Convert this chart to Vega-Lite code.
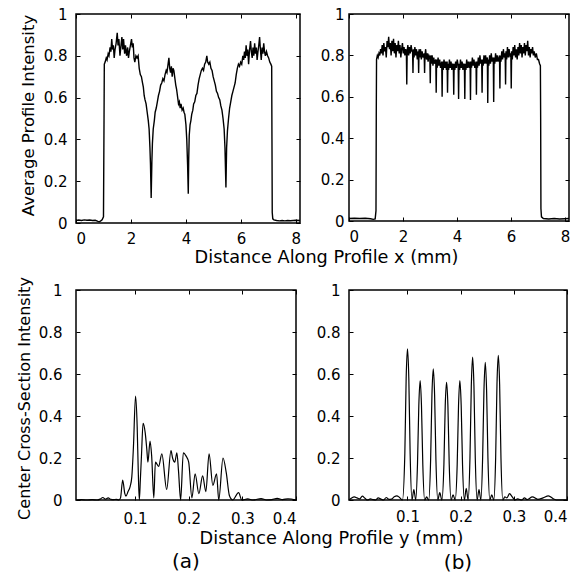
{
  "$schema": "https://vega.github.io/schema/vega-lite/v6.json",
  "padding": {"left": 15, "top": 6, "right": 5, "bottom": 5},
  "background": "white",
  "config": {
    "font": "DejaVu Sans",
    "view": {"stroke": "black", "strokeWidth": 1.5},
    "axis": {
      "domain": false, "grid": false, "tickColor": "black", "tickSize": -4, "tickWidth": 1,
      "labelColor": "black", "labelFontSize": 15, "labelFont": "DejaVu Sans",
      "titleFontSize": 16, "titleFontWeight": "normal", "titleColor": "black", "titleFont": "DejaVu Sans",
      "format": "~g"
    },
    "title": {"font": "DejaVu Sans", "fontSize": 20, "fontWeight": "normal", "color": "black"}
  },
  "datasets": {
    "tl": [
      {"x":0,"y":0.012},{"x":0.1,"y":0.014},{"x":0.2,"y":0.012},{"x":0.3,"y":0.015},{"x":0.4,"y":0.013},{"x":0.5,"y":0.014},{"x":0.6,"y":0.012},{"x":0.7,"y":0.013},{"x":0.8,"y":0.008},{"x":0.85,"y":0.006},{"x":0.9,"y":0.01},{"x":0.95,"y":0.015},{"x":1.0,"y":0.03},{"x":1.02,"y":0.5},{"x":1.03,"y":0.76},
      {"x":1.06,"y":0.77},{"x":1.1,"y":0.79},{"x":1.13,"y":0.78},{"x":1.17,"y":0.81},{"x":1.2,"y":0.8},{"x":1.24,"y":0.84},{"x":1.27,"y":0.82},{"x":1.3,"y":0.88},{"x":1.33,"y":0.83},{"x":1.36,"y":0.85},{"x":1.39,"y":0.79},{"x":1.42,"y":0.83},{"x":1.46,"y":0.86},{"x":1.5,"y":0.91},{"x":1.53,"y":0.85},{"x":1.56,"y":0.88},{"x":1.6,"y":0.8},{"x":1.63,"y":0.84},{"x":1.67,"y":0.89},{"x":1.7,"y":0.83},{"x":1.73,"y":0.88},{"x":1.77,"y":0.81},{"x":1.8,"y":0.85},{"x":1.84,"y":0.8},{"x":1.88,"y":0.84},{"x":1.91,"y":0.79},{"x":1.94,"y":0.82},{"x":1.98,"y":0.85},{"x":2.02,"y":0.88},{"x":2.05,"y":0.84},{"x":2.08,"y":0.86},{"x":2.11,"y":0.79},{"x":2.14,"y":0.77},{"x":2.18,"y":0.8},{"x":2.22,"y":0.79},{"x":2.26,"y":0.8},
      {"x":2.3,"y":0.74},{"x":2.34,"y":0.71},{"x":2.38,"y":0.7},{"x":2.42,"y":0.67},{"x":2.45,"y":0.65},{"x":2.48,"y":0.61},{"x":2.51,"y":0.59},{"x":2.55,"y":0.57},{"x":2.59,"y":0.53},{"x":2.63,"y":0.49},{"x":2.66,"y":0.45},{"x":2.69,"y":0.36},{"x":2.71,"y":0.28},{"x":2.735,"y":0.12},{"x":2.76,"y":0.29},{"x":2.78,"y":0.38},{"x":2.81,"y":0.45},{"x":2.85,"y":0.49},{"x":2.88,"y":0.53},{"x":2.92,"y":0.55},{"x":2.96,"y":0.58},{"x":3.0,"y":0.61},{"x":3.04,"y":0.63},{"x":3.08,"y":0.66},{"x":3.12,"y":0.67},{"x":3.16,"y":0.69},{"x":3.2,"y":0.68},{"x":3.24,"y":0.71},{"x":3.28,"y":0.73},{"x":3.31,"y":0.72},{"x":3.35,"y":0.76},{"x":3.38,"y":0.79},{"x":3.41,"y":0.74},{"x":3.44,"y":0.72},{"x":3.47,"y":0.75},{"x":3.5,"y":0.7},{"x":3.53,"y":0.74},{"x":3.56,"y":0.73},{"x":3.6,"y":0.69},{"x":3.63,"y":0.66},{"x":3.66,"y":0.64},{"x":3.7,"y":0.6},{"x":3.73,"y":0.57},{"x":3.76,"y":0.58},{"x":3.79,"y":0.55},{"x":3.82,"y":0.57},{"x":3.86,"y":0.54},{"x":3.9,"y":0.55},{"x":3.93,"y":0.53},{"x":3.96,"y":0.52},{"x":4.0,"y":0.47},{"x":4.03,"y":0.4},{"x":4.06,"y":0.28},{"x":4.085,"y":0.14},{"x":4.1,"y":0.3},{"x":4.12,"y":0.42},{"x":4.15,"y":0.47},{"x":4.18,"y":0.49},{"x":4.21,"y":0.52},{"x":4.25,"y":0.54},{"x":4.28,"y":0.57},{"x":4.32,"y":0.58},{"x":4.36,"y":0.61},{"x":4.4,"y":0.62},{"x":4.44,"y":0.66},{"x":4.48,"y":0.69},{"x":4.52,"y":0.71},{"x":4.56,"y":0.73},{"x":4.6,"y":0.74},{"x":4.64,"y":0.73},{"x":4.68,"y":0.76},{"x":4.72,"y":0.77},{"x":4.76,"y":0.8},{"x":4.79,"y":0.77},{"x":4.83,"y":0.76},{"x":4.87,"y":0.77},{"x":4.91,"y":0.74},{"x":4.95,"y":0.73},{"x":4.99,"y":0.7},{"x":5.03,"y":0.68},{"x":5.07,"y":0.66},{"x":5.11,"y":0.63},{"x":5.15,"y":0.62},{"x":5.19,"y":0.6},{"x":5.23,"y":0.59},{"x":5.27,"y":0.56},{"x":5.31,"y":0.54},{"x":5.35,"y":0.5},{"x":5.39,"y":0.45},{"x":5.42,"y":0.36},{"x":5.455,"y":0.17},{"x":5.48,"y":0.36},{"x":5.51,"y":0.44},{"x":5.55,"y":0.5},{"x":5.59,"y":0.55},{"x":5.63,"y":0.58},{"x":5.67,"y":0.61},{"x":5.71,"y":0.63},{"x":5.75,"y":0.65},{"x":5.79,"y":0.67},{"x":5.83,"y":0.71},{"x":5.87,"y":0.74},{"x":5.91,"y":0.76},{"x":5.95,"y":0.75},{"x":5.99,"y":0.77},{"x":6.03,"y":0.76},{"x":6.07,"y":0.8},{"x":6.1,"y":0.78},{"x":6.13,"y":0.82},{"x":6.16,"y":0.79},{"x":6.19,"y":0.85},{"x":6.22,"y":0.8},{"x":6.25,"y":0.83},{"x":6.28,"y":0.76},{"x":6.31,"y":0.82},{"x":6.35,"y":0.87},{"x":6.38,"y":0.82},{"x":6.41,"y":0.79},{"x":6.44,"y":0.84},{"x":6.47,"y":0.8},{"x":6.5,"y":0.86},{"x":6.53,"y":0.81},{"x":6.56,"y":0.84},{"x":6.59,"y":0.78},{"x":6.62,"y":0.82},{"x":6.65,"y":0.85},{"x":6.68,"y":0.89},{"x":6.71,"y":0.83},{"x":6.74,"y":0.78},{"x":6.77,"y":0.84},{"x":6.8,"y":0.81},{"x":6.83,"y":0.86},{"x":6.86,"y":0.82},{"x":6.89,"y":0.8},{"x":6.93,"y":0.82},{"x":6.97,"y":0.8},{"x":7.01,"y":0.79},{"x":7.05,"y":0.77},{"x":7.09,"y":0.76},{"x":7.12,"y":0.75},{"x":7.13,"y":0.4},{"x":7.14,"y":0.05},{"x":7.16,"y":0.02},{"x":7.2,"y":0.015},{"x":7.3,"y":0.012},{"x":7.4,"y":0.01},{"x":7.5,"y":0.012},{"x":7.6,"y":0.01},{"x":7.7,"y":0.012},{"x":7.8,"y":0.011},{"x":7.9,"y":0.012},{"x":8.0,"y":0.013},{"x":8.15,"y":0.012}
    ],
    "tr": [
      {"x":0,"y":0.012},{"x":0.2,"y":0.013},{"x":0.4,"y":0.012},{"x":0.6,"y":0.013},{"x":0.8,"y":0.011},{"x":0.9,"y":0.008},{"x":0.97,"y":0.01},{"x":1.0,"y":0.05},{"x":1.01,"y":0.5},{"x":1.02,"y":0.78},
      {"x":1.05,"y":0.8},{"x":1.08,"y":0.79},{"x":1.11,"y":0.81},{"x":1.14,"y":0.8},{"x":1.17,"y":0.83},{"x":1.2,"y":0.81},{"x":1.23,"y":0.85},{"x":1.26,"y":0.8},{"x":1.29,"y":0.86},{"x":1.32,"y":0.82},{"x":1.35,"y":0.84},{"x":1.38,"y":0.79},{"x":1.41,"y":0.87},{"x":1.44,"y":0.84},{"x":1.47,"y":0.89},{"x":1.5,"y":0.83},{"x":1.53,"y":0.86},{"x":1.56,"y":0.8},{"x":1.59,"y":0.87},{"x":1.62,"y":0.82},{"x":1.65,"y":0.88},{"x":1.68,"y":0.81},{"x":1.71,"y":0.86},{"x":1.74,"y":0.79},{"x":1.77,"y":0.85},{"x":1.8,"y":0.82},{"x":1.83,"y":0.87},{"x":1.86,"y":0.81},{"x":1.89,"y":0.85},{"x":1.92,"y":0.79},{"x":1.95,"y":0.83},{"x":1.98,"y":0.86},{"x":2.01,"y":0.81},{"x":2.04,"y":0.84},{"x":2.07,"y":0.8},{"x":2.1,"y":0.83},{"x":2.125,"y":0.82},{"x":2.14,"y":0.66},{"x":2.155,"y":0.82},{"x":2.18,"y":0.85},{"x":2.21,"y":0.8},{"x":2.24,"y":0.84},{"x":2.27,"y":0.81},{"x":2.3,"y":0.85},{"x":2.335,"y":0.82},{"x":2.355,"y":0.82},{"x":2.37,"y":0.715},{"x":2.385,"y":0.83},
      {"x":2.41,"y":0.79},{"x":2.44,"y":0.84},{"x":2.47,"y":0.8},{"x":2.5,"y":0.83},{"x":2.53,"y":0.78},{"x":2.565,"y":0.82},{"x":2.58,"y":0.715},{"x":2.595,"y":0.83},{"x":2.62,"y":0.79},{"x":2.65,"y":0.83},{"x":2.68,"y":0.78},{"x":2.71,"y":0.82},{"x":2.74,"y":0.79},{"x":2.785,"y":0.81},{"x":2.8,"y":0.715},{"x":2.815,"y":0.8},{"x":2.84,"y":0.83},{"x":2.87,"y":0.78},{"x":2.9,"y":0.81},{"x":2.93,"y":0.77},{"x":2.96,"y":0.8},{"x":2.995,"y":0.79},{"x":3.01,"y":0.665},{"x":3.025,"y":0.8},{"x":3.05,"y":0.76},{"x":3.08,"y":0.8},{"x":3.11,"y":0.75},{"x":3.14,"y":0.79},{"x":3.17,"y":0.76},{"x":3.215,"y":0.78},{"x":3.23,"y":0.62},{"x":3.245,"y":0.78},{"x":3.27,"y":0.74},{"x":3.3,"y":0.79},{"x":3.33,"y":0.75},{"x":3.36,"y":0.78},{"x":3.39,"y":0.74},{"x":3.435,"y":0.77},{"x":3.45,"y":0.6},{"x":3.465,"y":0.77},{"x":3.49,"y":0.73},{"x":3.52,"y":0.78},{"x":3.55,"y":0.74},{"x":3.58,"y":0.77},{"x":3.61,"y":0.73},{"x":3.635,"y":0.77},{"x":3.65,"y":0.62},{"x":3.665,"y":0.76},{"x":3.69,"y":0.73},{"x":3.72,"y":0.78},{"x":3.75,"y":0.74},{"x":3.78,"y":0.77},{"x":3.81,"y":0.73},{"x":3.84,"y":0.76},{"x":3.865,"y":0.75},{"x":3.88,"y":0.61},{"x":3.895,"y":0.76},{"x":3.92,"y":0.73},{"x":3.95,"y":0.77},{"x":3.98,"y":0.74},{"x":4.01,"y":0.78},{"x":4.045,"y":0.75},{"x":4.06,"y":0.59},{"x":4.075,"y":0.76},{"x":4.1,"y":0.73},{"x":4.13,"y":0.78},{"x":4.16,"y":0.74},{"x":4.19,"y":0.77},{"x":4.22,"y":0.73},{"x":4.25,"y":0.76},{"x":4.275,"y":0.75},{"x":4.29,"y":0.59},{"x":4.305,"y":0.76},{"x":4.33,"y":0.73},{"x":4.36,"y":0.78},{"x":4.39,"y":0.74},{"x":4.42,"y":0.77},{"x":4.455,"y":0.74},{"x":4.485,"y":0.77},{"x":4.5,"y":0.585},{"x":4.515,"y":0.77},{"x":4.54,"y":0.74},{"x":4.57,"y":0.79},{"x":4.6,"y":0.75},{"x":4.63,"y":0.78},{"x":4.66,"y":0.74},{"x":4.705,"y":0.77},{"x":4.72,"y":0.61},{"x":4.735,"y":0.77},{"x":4.76,"y":0.74},{"x":4.79,"y":0.79},{"x":4.82,"y":0.75},{"x":4.85,"y":0.8},{"x":4.88,"y":0.76},{"x":4.915,"y":0.78},{"x":4.93,"y":0.62},{"x":4.945,"y":0.78},{"x":4.97,"y":0.75},{"x":5.0,"y":0.8},{"x":5.03,"y":0.76},{"x":5.06,"y":0.8},{"x":5.09,"y":0.76},{"x":5.125,"y":0.79},{"x":5.14,"y":0.57},{"x":5.155,"y":0.78},{"x":5.18,"y":0.75},{"x":5.21,"y":0.8},{"x":5.24,"y":0.76},{"x":5.27,"y":0.81},{"x":5.3,"y":0.77},{"x":5.345,"y":0.79},{"x":5.36,"y":0.575},{"x":5.375,"y":0.79},{"x":5.4,"y":0.76},{"x":5.43,"y":0.81},{"x":5.46,"y":0.77},{"x":5.49,"y":0.8},{"x":5.52,"y":0.77},{"x":5.575,"y":0.8},{"x":5.59,"y":0.64},{"x":5.605,"y":0.8},{"x":5.63,"y":0.77},{"x":5.66,"y":0.82},{"x":5.69,"y":0.78},{"x":5.72,"y":0.83},{"x":5.75,"y":0.79},{"x":5.785,"y":0.81},{"x":5.8,"y":0.66},{"x":5.815,"y":0.82},{"x":5.84,"y":0.78},{"x":5.87,"y":0.84},{"x":5.9,"y":0.79},{"x":5.93,"y":0.83},{"x":5.96,"y":0.8},{"x":5.995,"y":0.81},{"x":6.01,"y":0.64},{"x":6.025,"y":0.82},{"x":6.05,"y":0.78},{"x":6.08,"y":0.84},{"x":6.11,"y":0.8},{"x":6.14,"y":0.85},{"x":6.17,"y":0.79},{"x":6.2,"y":0.83},{"x":6.23,"y":0.78},{"x":6.26,"y":0.84},{"x":6.29,"y":0.8},{"x":6.32,"y":0.86},{"x":6.35,"y":0.81},{"x":6.38,"y":0.85},{"x":6.41,"y":0.79},{"x":6.44,"y":0.84},{"x":6.47,"y":0.81},{"x":6.5,"y":0.86},{"x":6.53,"y":0.8},{"x":6.56,"y":0.85},{"x":6.59,"y":0.82},{"x":6.62,"y":0.87},{"x":6.65,"y":0.8},{"x":6.68,"y":0.84},{"x":6.71,"y":0.79},{"x":6.74,"y":0.83},{"x":6.77,"y":0.81},{"x":6.8,"y":0.84},{"x":6.83,"y":0.8},{"x":6.86,"y":0.82},{"x":6.9,"y":0.79},{"x":6.94,"y":0.81},{"x":6.98,"y":0.78},{"x":7.02,"y":0.78},{"x":7.06,"y":0.76},{"x":7.09,"y":0.75},{"x":7.1,"y":0.5},{"x":7.11,"y":0.06},{"x":7.13,"y":0.02},{"x":7.2,"y":0.012},{"x":7.4,"y":0.01},{"x":7.6,"y":0.012},{"x":7.8,"y":0.01},{"x":8.0,"y":0.011},{"x":8.15,"y":0.012}
    ],
    "bl": [
      {"x":-0.01,"y":0.0},{"x":0.0,"y":0.002},{"x":0.01,"y":0.0},{"x":0.02,"y":0.002},{"x":0.03,"y":0.0},{"x":0.035,"y":0.004},{"x":0.04,"y":0.012},{"x":0.045,"y":0.004},{"x":0.05,"y":0.01},{"x":0.055,"y":0.003},{"x":0.06,"y":0.002},{"x":0.065,"y":0.003},{"x":0.07,"y":0.0},{"x":0.073,"y":0.01},{"x":0.077,"y":0.095},{"x":0.081,"y":0.03},{"x":0.083,"y":0.018},{"x":0.087,"y":0.04},{"x":0.091,"y":0.065},{"x":0.094,"y":0.11},{"x":0.097,"y":0.25},{"x":0.101,"y":0.495},{"x":0.104,"y":0.35},{"x":0.106,"y":0.14},{"x":0.108,"y":0.0},{"x":0.11,"y":0.1},{"x":0.112,"y":0.21},{"x":0.115,"y":0.365},{"x":0.119,"y":0.32},{"x":0.122,"y":0.24},{"x":0.124,"y":0.18},{"x":0.128,"y":0.28},{"x":0.131,"y":0.21},{"x":0.135,"y":0.01},{"x":0.138,"y":0.18},{"x":0.144,"y":0.16},{"x":0.15,"y":0.22},{"x":0.159,"y":0.05},{"x":0.167,"y":0.235},{"x":0.17,"y":0.2},{"x":0.174,"y":0.18},{"x":0.178,"y":0.225},{"x":0.181,"y":0.14},{"x":0.185,"y":0.0},{"x":0.19,"y":0.225},{"x":0.195,"y":0.21},{"x":0.2,"y":0.18},{"x":0.206,"y":0.01},{"x":0.212,"y":0.125},{"x":0.219,"y":0.03},{"x":0.226,"y":0.115},{"x":0.232,"y":0.04},{"x":0.238,"y":0.22},{"x":0.245,"y":0.07},{"x":0.252,"y":0.125},{"x":0.256,"y":0.0},{"x":0.264,"y":0.2},{"x":0.27,"y":0.13},{"x":0.276,"y":0.02},{"x":0.282,"y":0.0},{"x":0.293,"y":0.035},{"x":0.299,"y":0.0},{"x":0.31,"y":0.005},{"x":0.32,"y":0.0},{"x":0.335,"y":0.007},{"x":0.345,"y":0.0},{"x":0.355,"y":0.002},{"x":0.365,"y":0.008},{"x":0.375,"y":0.002},{"x":0.385,"y":0.006},{"x":0.4,"y":0.0}
    ],
    "br": [
      {"x":-0.01,"y":0.0},{"x":-0.005,"y":0.01},{"x":0.0,"y":0.015},{"x":0.005,"y":0.01},{"x":0.01,"y":0.005},{"x":0.015,"y":0.018},{"x":0.02,"y":0.008},{"x":0.025,"y":0.0},{"x":0.03,"y":0.005},{"x":0.035,"y":0.002},{"x":0.04,"y":0.0},{"x":0.045,"y":0.01},{"x":0.05,"y":0.004},{"x":0.055,"y":0.0},{"x":0.06,"y":0.012},{"x":0.065,"y":0.003},{"x":0.07,"y":0.004},{"x":0.075,"y":0.015},{"x":0.08,"y":0.02},{"x":0.085,"y":0.012},{"x":0.0905,"y":0.0},
      {"x":0.095,"y":0.22},{"x":0.0975,"y":0.58},{"x":0.1,"y":0.72},{"x":0.1025,"y":0.58},{"x":0.105,"y":0.22},{"x":0.1085,"y":0.0},{"x":0.112,"y":0.05},{"x":0.1155,"y":0.0},
      {"x":0.1188,"y":0.17},{"x":0.1213,"y":0.45},{"x":0.1238,"y":0.568},{"x":0.1263,"y":0.45},{"x":0.1288,"y":0.17},{"x":0.1323,"y":0.0},{"x":0.136,"y":0.015},{"x":0.14,"y":0.0},
      {"x":0.1435,"y":0.19},{"x":0.146,"y":0.5},{"x":0.1485,"y":0.624},{"x":0.151,"y":0.5},{"x":0.1535,"y":0.19},{"x":0.157,"y":0.0},{"x":0.1607,"y":0.035},{"x":0.1647,"y":0.0},
      {"x":0.1685,"y":0.17},{"x":0.171,"y":0.45},{"x":0.1735,"y":0.56},{"x":0.176,"y":0.45},{"x":0.1785,"y":0.17},{"x":0.182,"y":0.0},{"x":0.1857,"y":0.025},{"x":0.1897,"y":0.0},
      {"x":0.1935,"y":0.17},{"x":0.196,"y":0.45},{"x":0.1985,"y":0.568},{"x":0.201,"y":0.45},{"x":0.2035,"y":0.17},{"x":0.207,"y":0.0},{"x":0.2105,"y":0.055},{"x":0.214,"y":0.0},
      {"x":0.2175,"y":0.2},{"x":0.22,"y":0.54},{"x":0.2225,"y":0.68},{"x":0.225,"y":0.54},{"x":0.2275,"y":0.2},{"x":0.231,"y":0.0},{"x":0.2345,"y":0.05},{"x":0.238,"y":0.0},
      {"x":0.2413,"y":0.2},{"x":0.2438,"y":0.52},{"x":0.2463,"y":0.656},{"x":0.2488,"y":0.52},{"x":0.2513,"y":0.2},{"x":0.2548,"y":0.0},{"x":0.2585,"y":0.025},{"x":0.2623,"y":0.0},
      {"x":0.2658,"y":0.2},{"x":0.2683,"y":0.55},{"x":0.2708,"y":0.689},{"x":0.2733,"y":0.55},{"x":0.2758,"y":0.2},{"x":0.2793,"y":0.0},
      {"x":0.283,"y":0.015},{"x":0.287,"y":0.01},{"x":0.292,"y":0.03},{"x":0.297,"y":0.015},{"x":0.302,"y":0.0},{"x":0.307,"y":0.005},{"x":0.315,"y":0.0},{"x":0.32,"y":0.01},{"x":0.325,"y":0.002},{"x":0.335,"y":0.015},{"x":0.345,"y":0.003},{"x":0.355,"y":0.01},{"x":0.365,"y":0.02},{"x":0.375,"y":0.005},{"x":0.38,"y":0.0},{"x":0.4,"y":0.0}
    ]
  },
  "columns": 2,
  "align": "none",
  "bounds": "flush",
  "spacing": {"row": 67, "column": 49},
  "concat": [
    {
      "width": 224, "height": 209,
      "data": {"name": "tl"},
      "layer": [
        {"mark": {"type": "line", "color": "black", "strokeWidth": 1.4},
         "encoding": {
           "x": {"field": "x", "type": "quantitative", "scale": {"domain": [0, 8.15], "nice": false},
                 "axis": {"orient": "bottom", "values": [0,2,4,6,8], "labelPadding": 12, "title": "Distance Along Profile x (mm)", "titleFontSize": 17.7, "titleX": 250, "titleY": 39, "titleBaseline": "alphabetic"}},
           "y": {"field": "y", "type": "quantitative", "scale": {"domain": [0, 1], "nice": false},
                 "axis": {"orient": "left", "values": [0,0.2,0.4,0.6,0.8,1], "labelPadding": 13, "title": "Average Profile Intensity", "titleFontSize": 16.5, "titleX": -43, "titleY": 101, "titleBaseline": "alphabetic"}}
         }},
        {"mark": {"type": "line", "color": "black", "strokeOpacity": 0},
         "encoding": {
           "x": {"field": "x", "type": "quantitative", "axis": {"orient": "top", "values": [0,2,4,6,8], "labels": false, "title": null}},
           "y": {"field": "y", "type": "quantitative", "axis": {"orient": "right", "values": [0,0.2,0.4,0.6,0.8,1], "labels": false, "title": null}}
         }}
      ],
      "resolve": {"axis": {"x": "independent", "y": "independent"}}
    },
    {
      "width": 220, "height": 207,
      "data": {"name": "tr"},
      "layer": [
        {"mark": {"type": "line", "color": "black", "strokeWidth": 1.4},
         "encoding": {
           "x": {"field": "x", "type": "quantitative", "scale": {"domain": [0, 8.15], "nice": false},
                 "axis": {"orient": "bottom", "values": [0,2,4,6,8], "labelPadding": 12, "title": null}},
           "y": {"field": "y", "type": "quantitative", "scale": {"domain": [0, 1], "nice": false},
                 "axis": {"orient": "left", "values": [0,0.2,0.4,0.6,0.8,1], "labelPadding": 9, "title": null}}
         }},
        {"mark": {"type": "line", "color": "black", "strokeOpacity": 0},
         "encoding": {
           "x": {"field": "x", "type": "quantitative", "axis": {"orient": "top", "values": [0,2,4,6,8], "labels": false, "title": null}},
           "y": {"field": "y", "type": "quantitative", "axis": {"orient": "right", "values": [0,0.2,0.4,0.6,0.8,1], "labels": false, "title": null}}
         }}
      ],
      "resolve": {"axis": {"x": "independent", "y": "independent"}}
    },
    {
      "width": 220, "height": 210,
      "data": {"name": "bl"},
      "title": {"text": "(a)", "orient": "bottom", "offset": 5},
      "layer": [
        {"mark": {"type": "line", "color": "black", "strokeWidth": 1.2, "interpolate": "monotone"},
         "encoding": {
           "x": {"field": "x", "type": "quantitative", "scale": {"domain": [-0.01, 0.4], "nice": false},
                 "axis": {"orient": "bottom", "values": [0.1,0.2,0.3,0.4], "labelPadding": 15, "title": "Distance Along Profile y (mm)", "titleFontSize": 17.7, "titleX": 255, "titleY": 43, "titleBaseline": "alphabetic"}},
           "y": {"field": "y", "type": "quantitative", "scale": {"domain": [0, 1], "nice": false},
                 "axis": {"orient": "left", "values": [0,0.2,0.4,0.6,0.8,1], "labelPadding": 18, "title": "Center Cross-Section Intensity", "titleX": -47, "titleY": 108, "titleBaseline": "alphabetic"}}
         }},
        {"mark": {"type": "line", "color": "black", "strokeOpacity": 0},
         "encoding": {
           "x": {"field": "x", "type": "quantitative", "axis": {"orient": "top", "values": [0.1,0.2,0.3,0.4], "labels": false, "title": null}},
           "y": {"field": "y", "type": "quantitative", "axis": {"orient": "right", "values": [0,0.2,0.4,0.6,0.8,1], "labels": false, "title": null}}
         }}
      ],
      "resolve": {"axis": {"x": "independent", "y": "independent"}}
    },
    {
      "width": 218, "height": 210,
      "data": {"name": "br"},
      "title": {"text": "(b)", "orient": "bottom", "offset": 29},
      "layer": [
        {"mark": {"type": "line", "color": "black", "strokeWidth": 1.2, "interpolate": "monotone"},
         "encoding": {
           "x": {"field": "x", "type": "quantitative", "scale": {"domain": [-0.01, 0.4], "nice": false},
                 "axis": {"orient": "bottom", "values": [0.1,0.2,0.3,0.4], "labelPadding": 13, "title": null}},
           "y": {"field": "y", "type": "quantitative", "scale": {"domain": [0, 1], "nice": false},
                 "axis": {"orient": "left", "values": [0,0.2,0.4,0.6,0.8,1], "labelPadding": 13, "title": null}}
         }},
        {"mark": {"type": "line", "color": "black", "strokeOpacity": 0},
         "encoding": {
           "x": {"field": "x", "type": "quantitative", "axis": {"orient": "top", "values": [0.1,0.2,0.3,0.4], "labels": false, "title": null}},
           "y": {"field": "y", "type": "quantitative", "axis": {"orient": "right", "values": [0,0.2,0.4,0.6,0.8,1], "labels": false, "title": null}}
         }}
      ],
      "resolve": {"axis": {"x": "independent", "y": "independent"}}
    }
  ]
}
